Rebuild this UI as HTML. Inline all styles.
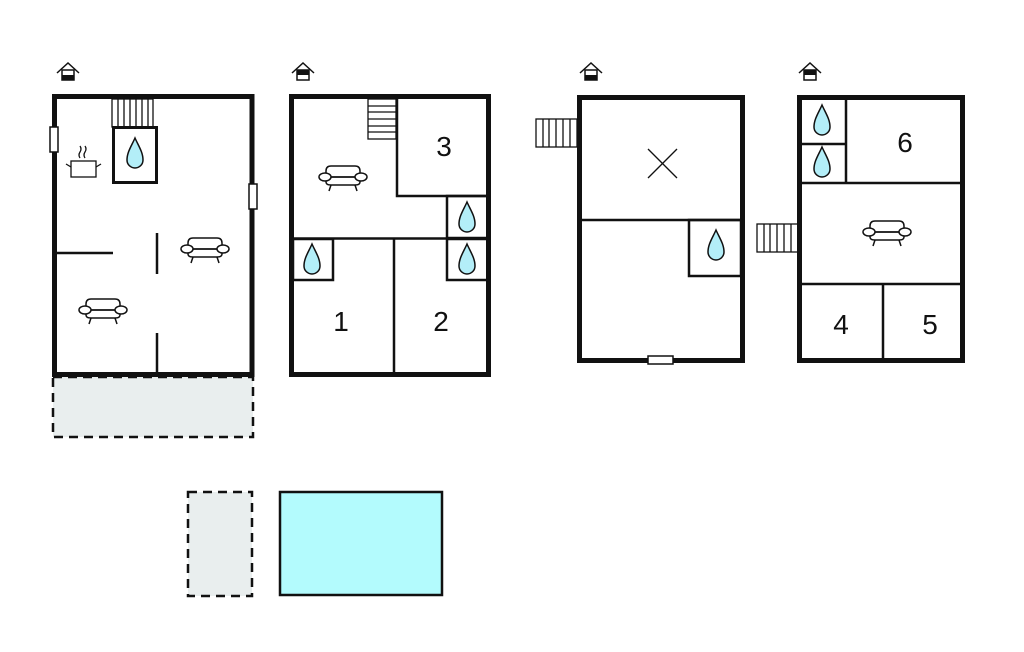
<!DOCTYPE html>
<html><head><meta charset="utf-8"><style>
html,body{margin:0;padding:0;background:#fff;width:1024px;height:652px;overflow:hidden}
svg{display:block}
text{font-family:"Liberation Sans",sans-serif;font-size:28px;fill:#111;text-anchor:middle}
</style></head><body>
<svg width="1024" height="652" viewBox="0 0 1024 652" xmlns="http://www.w3.org/2000/svg">
<defs>
<path id="drop" d="M0,-15 C-3,-8 -8,-1 -8,7 A8,8 0 0 0 8,7 C8,-1 3,-8 0,-15 Z" fill="#b3eef8" stroke="#111" stroke-width="1.5"/>
<g id="sofa" fill="#fff" stroke="#111" stroke-width="1.5">
<path d="M-17,-1 V-7 Q-17,-12 -12,-12 H12 Q17,-12 17,-7 V-1"/>
<path d="M-17,-1 V4 Q-17,7 -12,7 H12 Q17,7 17,4 V-1 Z"/>
<line x1="-17" y1="-1" x2="17" y2="-1"/>
<ellipse cx="-18" cy="-1" rx="6" ry="4"/>
<ellipse cx="18" cy="-1" rx="6" ry="4"/>
<line x1="-12" y1="7" x2="-14" y2="13"/><line x1="12" y1="7" x2="14" y2="13"/>
</g>
<g id="house" stroke="#111" stroke-width="1.5" fill="none">
<path d="M-11,0 L0,-10 L11,0"/>
<rect x="-6" y="-3" width="12" height="10" fill="#fff"/>
</g>
</defs>
<g transform="translate(68,73)"><use href="#house"/><rect x="-6" y="2" width="12" height="5" fill="#111"/></g>
<g transform="translate(303,73)"><use href="#house"/><rect x="-6" y="-3" width="12" height="5" fill="#111"/></g>
<g transform="translate(591,73)"><use href="#house"/><rect x="-6" y="2" width="12" height="5" fill="#111"/></g>
<g transform="translate(810,73)"><use href="#house"/><rect x="-6" y="-3" width="12" height="5" fill="#111"/></g>

<!-- Plan 1 -->
<rect x="53" y="377" width="200" height="60" fill="#e9eeee" stroke="#111" stroke-width="2.5" stroke-dasharray="9,6"/>
<rect x="54.5" y="96.5" width="197.5" height="278" fill="#fff" stroke="#111" stroke-width="5"/>
<g stroke="#111" stroke-width="1.3" fill="#fff">
<rect x="112" y="99" width="41" height="28"/>
<line x1="118" y1="99" x2="118" y2="127"/><line x1="124" y1="99" x2="124" y2="127"/><line x1="130" y1="99" x2="130" y2="127"/><line x1="136" y1="99" x2="136" y2="127"/><line x1="142" y1="99" x2="142" y2="127"/><line x1="148" y1="99" x2="148" y2="127"/>
</g>
<rect x="113.5" y="127.5" width="43" height="55" fill="#fff" stroke="#111" stroke-width="3"/>
<use href="#drop" x="135" y="153"/>
<rect x="50" y="127" width="8" height="25" fill="#fff" stroke="#111" stroke-width="1.5"/>
<rect x="249" y="184" width="8" height="25" fill="#fff" stroke="#111" stroke-width="1.5"/>
<g stroke="#111" stroke-width="1.3" fill="none">
<rect x="71" y="161" width="25" height="16" fill="#fff"/>
<line x1="66" y1="164" x2="71" y2="167"/><line x1="96" y1="167" x2="101" y2="164"/>
<path d="M80,158 q-2,-3 0,-6 q2,-3 0,-6"/><path d="M85,158 q-2,-3 0,-6 q2,-3 0,-6"/>
</g>
<g stroke="#111" stroke-width="2.5">
<line x1="56" y1="253" x2="113" y2="253"/>
<line x1="157" y1="233" x2="157" y2="274"/>
<line x1="157" y1="333" x2="157" y2="374"/>
</g>
<use href="#sofa" x="205" y="250"/>
<use href="#sofa" x="103" y="311"/>

<!-- Plan 2 -->
<rect x="291.5" y="96.5" width="197" height="278" fill="#fff" stroke="#111" stroke-width="5"/>
<g stroke="#111" stroke-width="1.3" fill="#fff">
<rect x="368" y="99" width="28" height="40"/>
<line x1="368" y1="106" x2="396" y2="106"/><line x1="368" y1="112" x2="396" y2="112"/><line x1="368" y1="119" x2="396" y2="119"/><line x1="368" y1="126" x2="396" y2="126"/><line x1="368" y1="132" x2="396" y2="132"/>
</g>
<g stroke="#111" stroke-width="2.5" fill="none">
<polyline points="397,99 397,196 488,196"/>
<rect x="447" y="196" width="41" height="42"/>
<line x1="292" y1="238.5" x2="488" y2="238.5"/>
<rect x="293" y="239" width="40" height="41"/>
<line x1="394" y1="239" x2="394" y2="374"/>
<rect x="447" y="239" width="41" height="41"/>
</g>
<use href="#drop" x="467" y="217"/>
<use href="#drop" x="312" y="259"/>
<use href="#drop" x="467" y="259"/>
<use href="#sofa" x="343" y="178"/>
<text x="444" y="156">3</text>
<text x="341" y="331">1</text>
<text x="441" y="331">2</text>

<!-- Plan 3 -->
<g stroke="#111" stroke-width="1.3" fill="#fff">
<rect x="536" y="119" width="41" height="28"/>
<line x1="543" y1="119" x2="543" y2="147"/><line x1="549" y1="119" x2="549" y2="147"/><line x1="556" y1="119" x2="556" y2="147"/><line x1="563" y1="119" x2="563" y2="147"/><line x1="570" y1="119" x2="570" y2="147"/>
</g>
<rect x="579.5" y="97.5" width="163" height="263" fill="#fff" stroke="#111" stroke-width="5"/>
<g stroke="#111" stroke-width="2.5" fill="none">
<line x1="581" y1="220" x2="741" y2="220"/>
<rect x="689" y="220" width="52" height="56"/>
</g>
<g stroke="#111" stroke-width="1.3"><line x1="648" y1="149" x2="677" y2="178"/><line x1="677" y1="149" x2="648" y2="178"/></g>
<use href="#drop" x="716" y="245"/>
<rect x="648" y="356" width="25" height="8" fill="#fff" stroke="#111" stroke-width="1.5"/>

<!-- Plan 4 -->
<g stroke="#111" stroke-width="1.3" fill="#fff">
<rect x="757" y="224" width="41" height="28"/>
<line x1="764" y1="224" x2="764" y2="252"/><line x1="770" y1="224" x2="770" y2="252"/><line x1="777" y1="224" x2="777" y2="252"/><line x1="784" y1="224" x2="784" y2="252"/><line x1="791" y1="224" x2="791" y2="252"/>
</g>
<rect x="799.5" y="97.5" width="163" height="263" fill="#fff" stroke="#111" stroke-width="5"/>
<g stroke="#111" stroke-width="2.5" fill="none">
<line x1="846" y1="99" x2="846" y2="183"/>
<line x1="801" y1="144" x2="846" y2="144"/>
<line x1="801" y1="183" x2="961" y2="183"/>
<line x1="801" y1="284" x2="961" y2="284"/>
<line x1="883" y1="284" x2="883" y2="359"/>
</g>
<use href="#drop" x="822" y="120"/>
<use href="#drop" x="822" y="162"/>
<use href="#sofa" x="887" y="233"/>
<text x="905" y="152">6</text>
<text x="841" y="334">4</text>
<text x="930" y="334">5</text>

<rect x="188" y="492" width="64" height="104" fill="#e9eeee" stroke="#111" stroke-width="2.5" stroke-dasharray="9,6"/>
<rect x="280" y="492" width="162" height="103" fill="#b3fbfd" stroke="#111" stroke-width="2.5"/>
</svg>
</body></html>
